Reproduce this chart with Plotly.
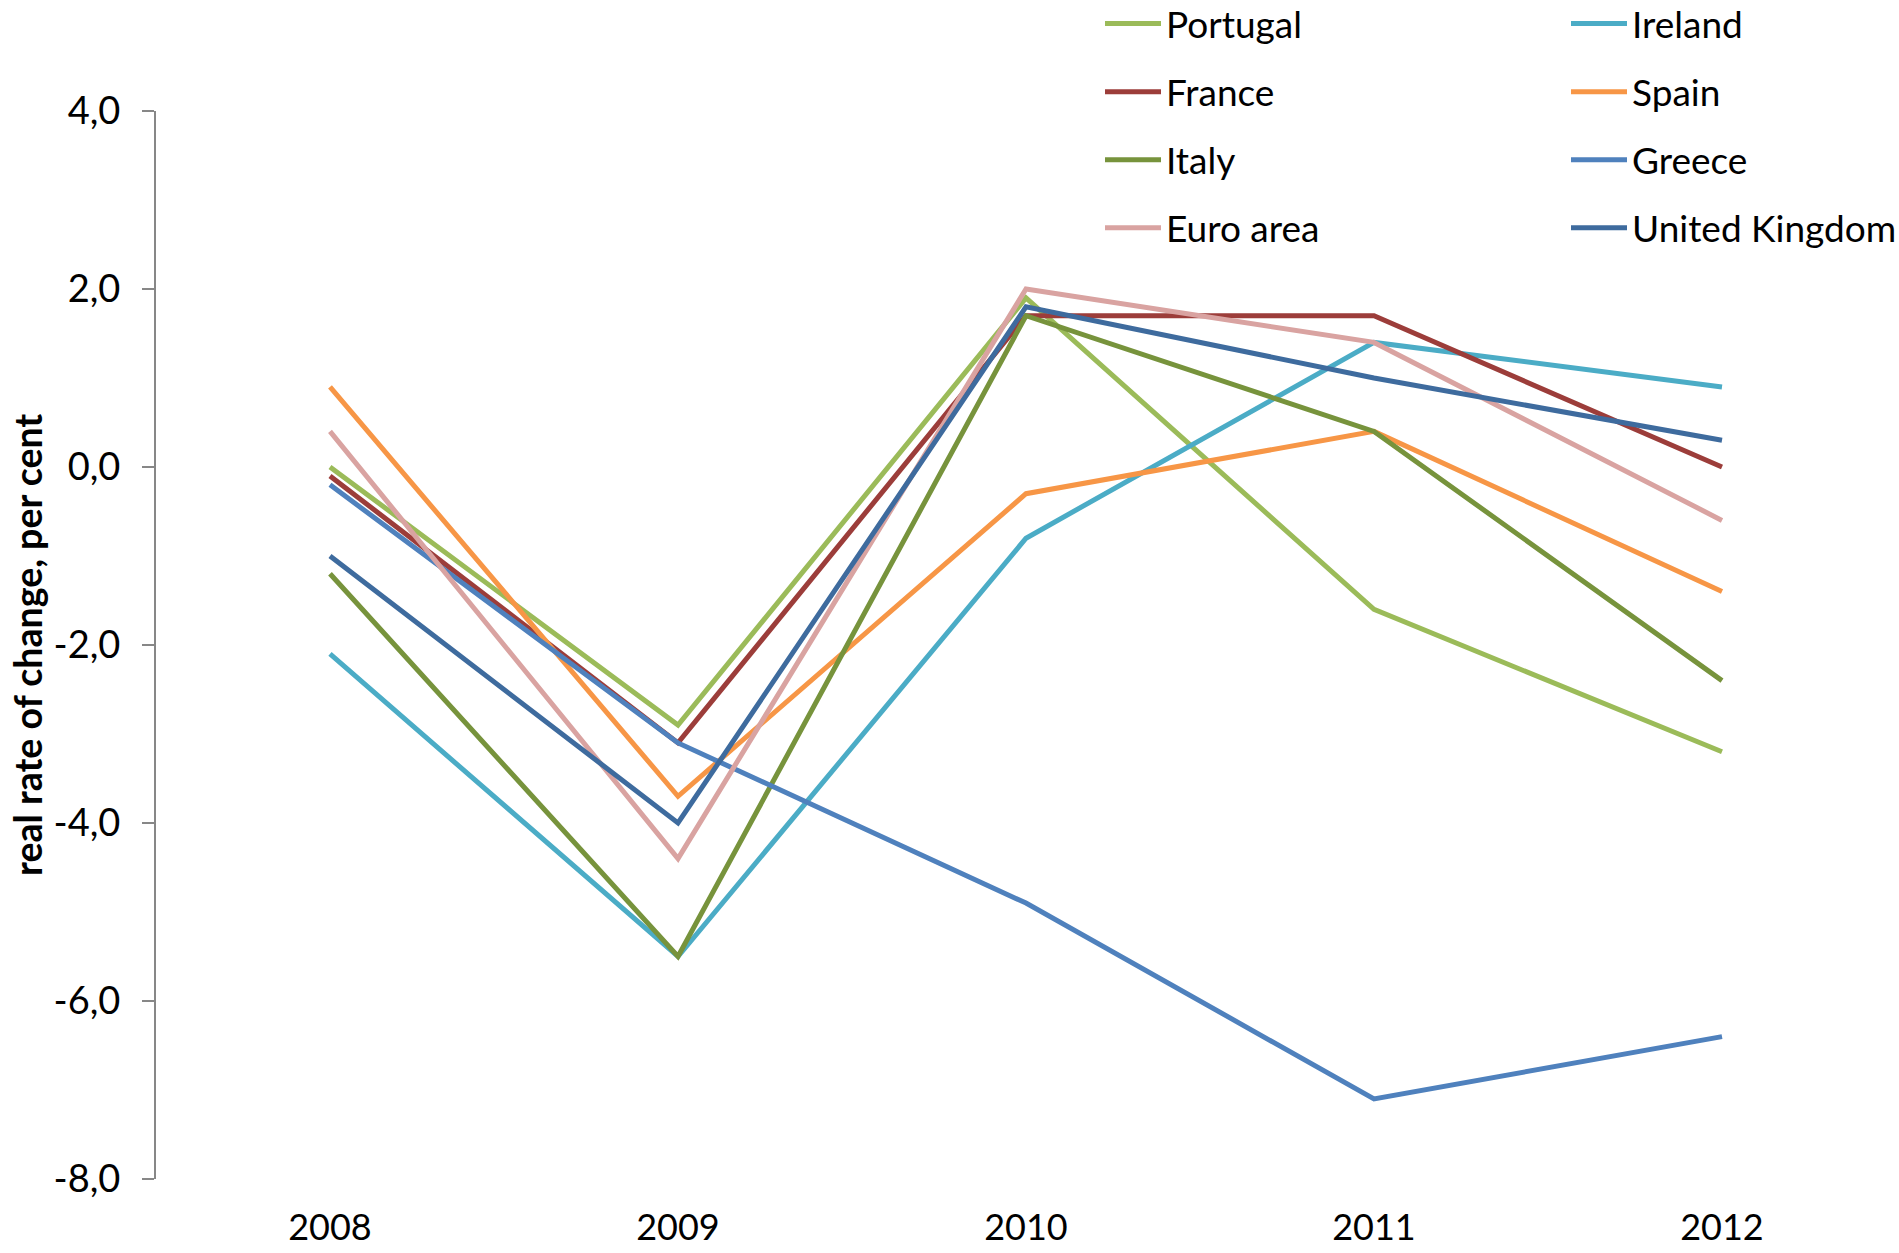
import plotly.graph_objects as go

# Real rate of change, per cent, 2008-2012
years = ["2008", "2009", "2010", "2011", "2012"]

portugal = [0.0, -2.9, 1.9, -1.6, -3.2]
ireland = [-2.1, -5.5, -0.8, 1.4, 0.9]
france = [-0.1, -3.1, 1.7, 1.7, 0.0]
spain = [0.9, -3.7, -0.3, 0.4, -1.4]
italy = [-1.2, -5.5, 1.7, 0.4, -2.4]
greece = [-0.2, -3.1, -4.9, -7.1, -6.4]
euro_area = [0.4, -4.4, 2.0, 1.4, -0.6]
united_kingdom = [-1.0, -4.0, 1.8, 1.0, 0.3]

series = [
    ("Portugal", portugal, "#9BBB59", "legend"),
    ("Ireland", ireland, "#4BACC6", "legend2"),
    ("France", france, "#9C3D3A", "legend"),
    ("Spain", spain, "#F79646", "legend2"),
    ("Italy", italy, "#77933C", "legend"),
    ("Greece", greece, "#4F81BD", "legend2"),
    ("Euro area", euro_area, "#D9A3A1", "legend"),
    ("United Kingdom", united_kingdom, "#3E6B9E", "legend2"),
]

FONT = "Lato, 'Open Sans', sans-serif"
AXIS_GREY = "#878787"

W, H = 1899, 1253
L, R, T, B = 156, 3, 111, 74
plot_w = W - L - R
plot_h = H - T - B

y_min, y_max, y_step = -8, 4, 2
y_ticks = list(range(y_min, y_max + 1, y_step))
# decimal comma with a plain hyphen for negatives
y_ticktext = [f"{v:.1f}".replace(".", ",") for v in y_ticks]

fig = go.Figure()
for name, vals, color, leg in series:
    fig.add_trace(go.Scatter(
        x=years, y=vals, name=name, mode="lines",
        line=dict(color=color, width=5),
        legend=leg, legendgroup=name,
    ))


def px_x(px):
    return (px - L) / plot_w


def px_y(py):
    return (H - B - py) / plot_h


legend_common = dict(
    orientation="v",
    xanchor="left", yanchor="top",
    font=dict(family=FONT, size=37, color="black"),
    bgcolor="rgba(0,0,0,0)",
    tracegroupgap=17,
    itemwidth=56,
)

n_cat = len(years)
boundaries = [i - 0.5 for i in range(n_cat + 1)]

fig.update_layout(
    width=W, height=H,
    margin=dict(l=L, r=R, t=T, b=B, autoexpand=False),
    paper_bgcolor="white", plot_bgcolor="white",
    font=dict(family=FONT, color="black"),
    xaxis=dict(
        type="category", range=[-0.5, n_cat - 0.5],
        showline=False, showgrid=False, zeroline=False,
        ticks="", tickfont=dict(family=FONT, size=36, color="black"),
        ticklabelstandoff=24,
    ),
    xaxis2=dict(
        overlaying="x", anchor="free",
        position=(0 - y_min) / (y_max - y_min),
        range=[-0.5, n_cat - 0.5],
        tickvals=boundaries, showticklabels=False,
        ticks="outside", ticklen=12, tickwidth=2, tickcolor=AXIS_GREY,
        showline=True, linecolor=AXIS_GREY, linewidth=2,
        showgrid=False, zeroline=False,
    ),
    yaxis=dict(
        range=[y_min, y_max], tickvals=y_ticks, ticktext=y_ticktext,
        showline=True, linecolor=AXIS_GREY, linewidth=2,
        ticks="outside", ticklen=12, tickwidth=2, tickcolor=AXIS_GREY,
        showgrid=False, zeroline=False,
        tickfont=dict(family=FONT, size=38, color="black"),
        ticklabelstandoff=14,
    ),
    legend=dict(x=px_x(1100), y=px_y(-7), **legend_common),
    legend2=dict(x=px_x(1566), y=px_y(-7), **legend_common),
    annotations=[dict(
        text="<b>real rate of change, per cent</b>",
        xref="paper", yref="paper", x=0, y=0.5,
        xanchor="center", yanchor="middle", xshift=27 - L,
        textangle=-90, showarrow=False,
        font=dict(family=FONT, size=37.5, color="black"),
    )],
)

fig.write_html("out.html")
